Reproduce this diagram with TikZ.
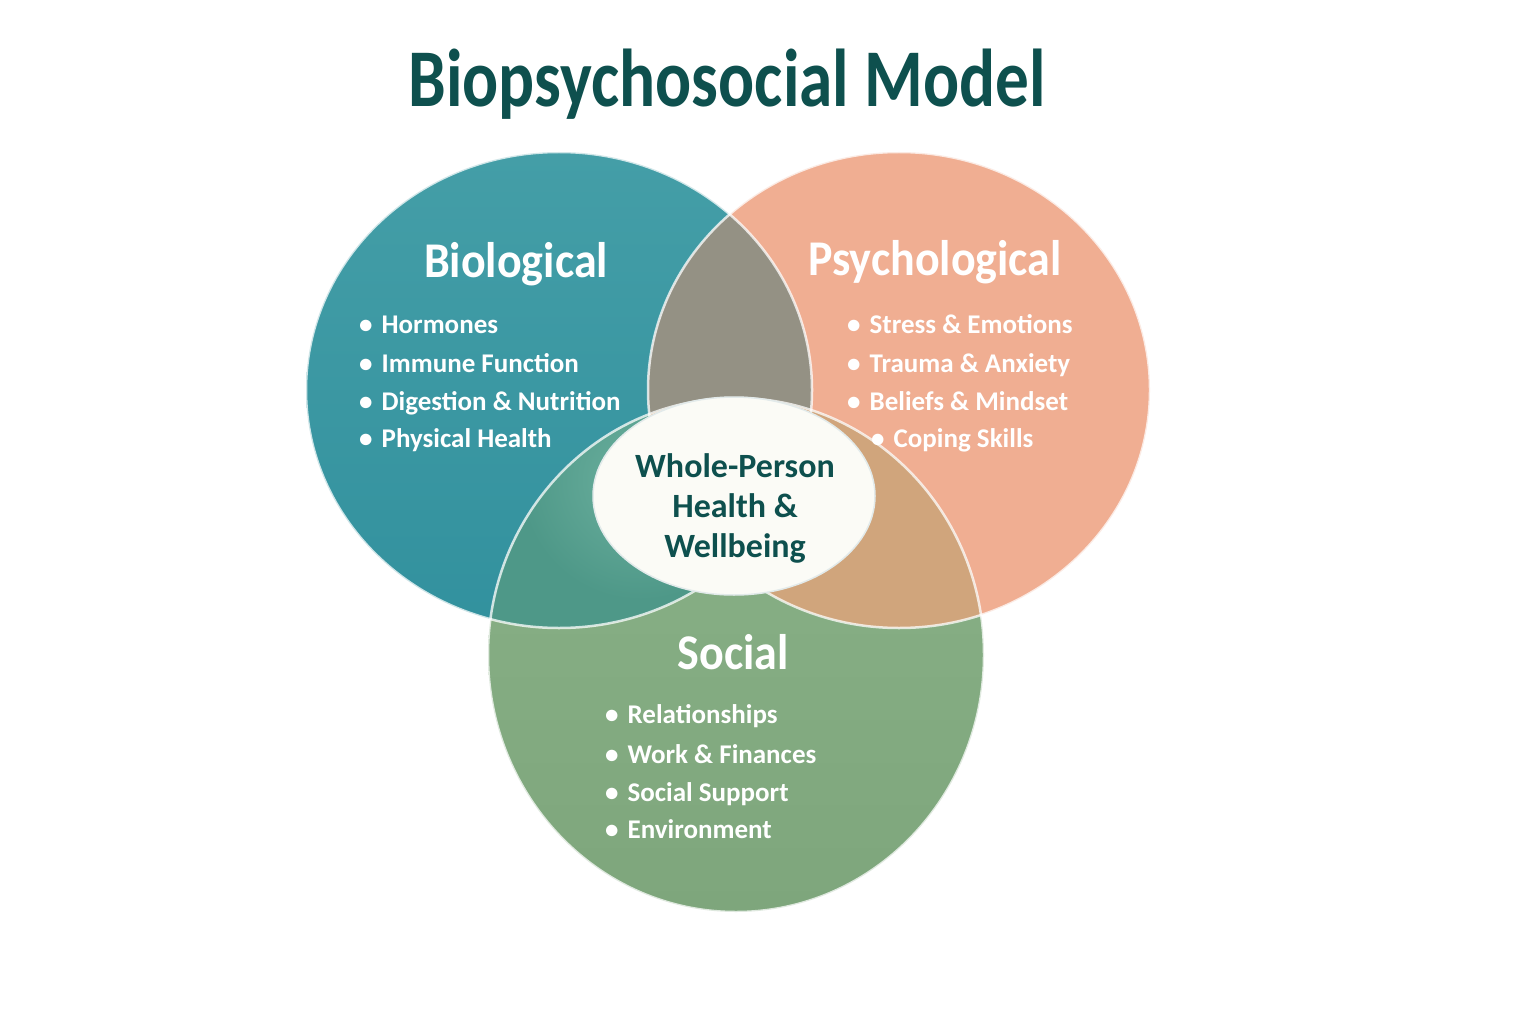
\documentclass[tikz,border=0pt]{standalone}
\usepackage{fontspec}
\setmainfont{Carlito}
\usetikzlibrary{positioning}

\definecolor{biotop}{RGB}{68,158,167}
\definecolor{biobot}{RGB}{50,145,158}
\definecolor{psysalmon}{RGB}{240,174,146}
\definecolor{soctop}{RGB}{138,178,136}
\definecolor{socbot}{RGB}{126,166,124}
\definecolor{biopsy}{RGB}{148,145,132}
\definecolor{biosoc}{RGB}{78,152,136}
\definecolor{biosoclight}{RGB}{108,176,158}
\definecolor{psysoc}{RGB}{208,165,124}
\definecolor{darkteal}{RGB}{14,80,78}
\definecolor{blobwhite}{RGB}{251,251,246}

\begin{document}
\begin{tikzpicture}[x=1pt, y=-1pt,
    heading/.style={text=white, font=\bfseries\fontsize{50}{54}\selectfont, xscale=0.92},
    item/.style={anchor=west, text=white, inner sep=0pt, text height=22pt, text depth=4.6pt,
        font=\bfseries\fontsize{27}{30}\selectfont},
    ring/.style={draw=white, draw opacity=0.75, line width=2.5pt}]
    \useasboundingbox (0,0) rectangle (1536,1024);
    \fill[white] (0,0) rectangle (1536,1024);

    % Les trois cercles
    \shade[top color=biotop, bottom color=biobot] (559,390) ellipse [x radius=253, y radius=238];
    \fill[psysalmon] (899,390) ellipse [x radius=251, y radius=238];
    \shade[top color=soctop, bottom color=socbot] (736,655) ellipse [x radius=248, y radius=257];

    % Intersections deux a deux
    \begin{scope}
        \clip (559,390) ellipse [x radius=253, y radius=238];
        \fill[biopsy] (899,390) ellipse [x radius=251, y radius=238];
        \begin{scope}
            \clip (736,655) ellipse [x radius=248, y radius=257];
            \fill[biosoc] (300,300) rectangle (900,700);
            \shade[inner color=biosoclight, outer color=biosoc] (640,480) circle (120);
        \end{scope}
    \end{scope}
    \begin{scope}
        \clip (899,390) ellipse [x radius=251, y radius=238];
        \fill[psysoc] (736,655) ellipse [x radius=248, y radius=257];
    \end{scope}

    % Contours clairs
    \draw[ring] (559,390) ellipse [x radius=253, y radius=238];
    \draw[ring] (899,390) ellipse [x radius=251, y radius=238];
    \draw[ring] (736,655) ellipse [x radius=248, y radius=257];

    % Zone centrale
    \fill[blobwhite, draw=white!88!darkteal, line width=1.5pt] (734,496) ellipse [x radius=141, y radius=99];

    % Titre
    \node[text=darkteal, font=\bfseries\fontsize{82}{86}\selectfont, xscale=0.82] (title) at (727,84) {Biopsychosocial Model};

    % Biological
    \node[heading] (bio) at (516,264) {Biological};
    \node[item] (bio1) at (359,325) {\textbullet\hspace{9pt}Hormones};
    \node[item] (bio2) at (359,364) {\textbullet\hspace{9pt}Immune Function};
    \node[item] (bio3) at (359,402) {\textbullet\hspace{9pt}Digestion \& Nutrition};
    \node[item] (bio4) at (359,439) {\textbullet\hspace{9pt}Physical Health};

    % Psychological
    \node[heading] (psy) at (935,262) {Psychological};
    \node[item] (psy1) at (847,325) {\textbullet\hspace{9pt}Stress \& Emotions};
    \node[item] (psy2) at (847,364) {\textbullet\hspace{9pt}Trauma \& Anxiety};
    \node[item] (psy3) at (847,402) {\textbullet\hspace{9pt}Beliefs \& Mindset};
    \node[item] (psy4) at (871,439) {\textbullet\hspace{9pt}Coping Skills};

    % Social
    \node[heading] (soc) at (733,652) {Social};
    \node[item] (soc1) at (605,715) {\textbullet\hspace{9pt}Relationships};
    \node[item] (soc2) at (605,755) {\textbullet\hspace{9pt}Work \& Finances};
    \node[item] (soc3) at (605,793) {\textbullet\hspace{9pt}Social Support};
    \node[item] (soc4) at (605,830) {\textbullet\hspace{9pt}Environment};

    % Texte central
    \node[text=darkteal, align=center, font=\bfseries\fontsize{34}{40}\selectfont] (whole) at (735,508)
        {Whole-Person\\Health \&\\Wellbeing};

\end{tikzpicture}
\end{document}
